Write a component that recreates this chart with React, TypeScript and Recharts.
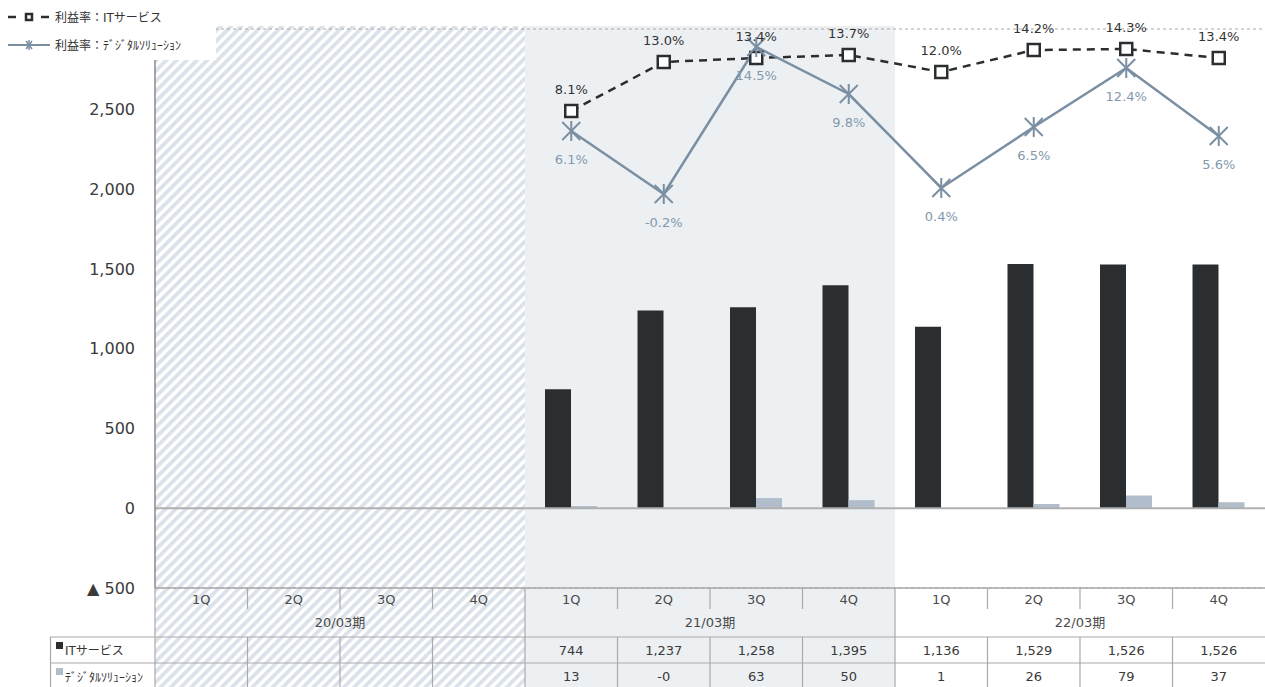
import * as React from "react";
import {
  ComposedChart,
  Bar,
  Line,
  XAxis,
  YAxis,
  CartesianGrid,
  ReferenceLine,
  LabelList,
} from "recharts";

const quarters = ["1Q", "2Q", "3Q", "4Q", "1Q", "2Q", "3Q", "4Q", "1Q", "2Q", "3Q", "4Q"];
const periods = ["20/03期", "21/03期", "22/03期"];
const itSales = [null, null, null, null, 744, 1237, 1258, 1395, 1136, 1529, 1526, 1526];
const digitalSales = [null, null, null, null, 13, -0.2, 63, 50, 1, 26, 79, 37];
const itMargin = [null, null, null, null, 8.1, 13.0, 13.4, 13.7, 12.0, 14.2, 14.3, 13.4];
const digitalMargin = [null, null, null, null, 6.1, -0.2, 14.5, 9.8, 0.4, 6.5, 12.4, 5.6];
const yTicks = [-500, 0, 500, 1000, 1500, 2000, 2500, 3000];

const W = 1265;
const H = 687;
const PLOT_LEFT = 155;
const PLOT_TOP = 29;
const AXIS_H = 99;
const PLOT_BOTTOM = H - AXIS_H;
const BAND = (W - PLOT_LEFT) / quarters.length;

const DARK = "#2b2e31";
const LIGHT = "#b1bdcb";
const STEEL = "#7b8fa3";
const GRID = "#a9a9a9";
const FONT = "'DejaVu Sans', 'Noto Sans CJK JP', sans-serif";

const data = quarters.map((q, i) => ({
  key: `${i}`,
  quarter: q,
  period: periods[Math.floor(i / 4)],
  it: itSales[i],
  digital: digitalSales[i],
  itRate: itMargin[i],
  dgRate: digitalMargin[i],
}));

const fmtNum = (v: number | null) => {
  if (v == null) return "";
  const r = Math.round(v);
  if (r === 0 && v < 0) return "-0";
  return r.toLocaleString("en-US");
};

const fmtPct = (v: any) => (v == null ? "" : `${Number(v).toFixed(1)}%`);

function SquareDot(props: any) {
  const { cx, cy } = props;
  if (cx == null || cy == null || props.value == null) return null;
  return (
    <rect x={cx - 6} y={cy - 6} width={12} height={12} fill="#fff" stroke={DARK} strokeWidth={2.5} />
  );
}

function StarDot(props: any) {
  const { cx, cy } = props;
  if (cx == null || cy == null || props.value == null) return null;
  const r = 9;
  return (
    <g stroke={STEEL} strokeWidth={2}>
      <line x1={cx - r} y1={cy - r} x2={cx + r} y2={cy + r} />
      <line x1={cx - r} y1={cy + r} x2={cx + r} y2={cy - r} />
      <line x1={cx} y1={cy - r - 1} x2={cx} y2={cy + r + 1} />
    </g>
  );
}

function YTick(props: any) {
  const { x, y, payload } = props;
  if (payload.value === 3000) return null;
  const label = payload.value < 0 ? `▲ ${Math.abs(payload.value)}` : payload.value.toLocaleString("en-US");
  return (
    <text x={x - 12} y={y} dy={6} textAnchor="end" fontSize={16} fill="#3a3a3a" fontFamily={FONT}>
      {label}
    </text>
  );
}

function XTick(props: any) {
  const { x, index } = props;
  const d = data[index];
  const right = x + BAND / 2;
  const groupEnd = index % 4 === 3;
  const rowTop = 637;
  const rowMid = 663;
  return (
    <g fontFamily={FONT}>
      {index === 0 && (
        <g stroke={GRID} strokeWidth={1.2}>
          <line x1={50} y1={rowTop} x2={W} y2={rowTop} />
          <line x1={50} y1={rowMid} x2={W} y2={rowMid} />
          <line x1={50.5} y1={rowTop} x2={50.5} y2={H} />
          <line x1={PLOT_LEFT} y1={PLOT_BOTTOM} x2={PLOT_LEFT} y2={H} />
        </g>
      )}
      {index === 0 && (
        <g fontSize={12} fill="#333">
          <rect x={56} y={642} width={7} height={7} fill={DARK} />
          <text x={65} y={655}>ITサービス</text>
          <rect x={56} y={668} width={7} height={7} fill={LIGHT} />
          <text x={65} y={682}>ﾃﾞｼﾞﾀﾙｿﾘｭｰｼｮﾝ</text>
        </g>
      )}
      <text x={x} y={604} textAnchor="middle" fontSize={13} fill="#4a4a4a">
        {d.quarter}
      </text>
      {index % 4 === 1 && (
        <text x={right} y={627} textAnchor="middle" fontSize={13} fill="#4a4a4a">
          {d.period}
        </text>
      )}
      <text x={x} y={655} textAnchor="middle" fontSize={13} fill="#3a3a3a">
        {fmtNum(d.it)}
      </text>
      <text x={x} y={681} textAnchor="middle" fontSize={13} fill="#3a3a3a">
        {fmtNum(d.digital)}
      </text>
      {index < quarters.length - 1 && (
        <g stroke={GRID} strokeWidth={1.2}>
          {groupEnd ? (
            <line x1={right} y1={PLOT_BOTTOM} x2={right} y2={H} />
          ) : (
            <>
              <line x1={right} y1={PLOT_BOTTOM} x2={right} y2={609} />
              <line x1={right} y1={rowTop} x2={right} y2={H} />
            </>
          )}
        </g>
      )}
    </g>
  );
}

function Legend() {
  return (
    <svg width={216} height={60} style={{ position: "absolute", left: 0, top: 0, background: "#fff" }}>
      <g fontFamily={FONT} fontSize={12} fill="#333">
        <line x1={8} y1={17} x2={16} y2={17} stroke={DARK} strokeWidth={2.5} />
        <rect x={26} y={14} width={6} height={6} fill="#fff" stroke={DARK} strokeWidth={2.5} />
        <line x1={41} y1={17} x2={49} y2={17} stroke={DARK} strokeWidth={2.5} />
        <text x={55} y={22}>利益率：ITサービス</text>
        <line x1={8} y1={45} x2={50} y2={45} stroke={STEEL} strokeWidth={2} />
        <g stroke={STEEL} strokeWidth={1.5}>
          <line x1={26} y1={41} x2={32} y2={49} />
          <line x1={26} y1={49} x2={32} y2={41} />
          <line x1={29} y1={40} x2={29} y2={50} />
        </g>
        <text x={55} y={50}>利益率：ﾃﾞｼﾞﾀﾙｿﾘｭｰｼｮﾝ</text>
      </g>
    </svg>
  );
}

function Background() {
  const bgTop = 26;
  return (
    <svg width={W} height={H} style={{ position: "absolute", left: 0, top: 0 }}>
      <defs>
        <pattern id="hatch" patternUnits="userSpaceOnUse" width={7.2} height={7.2} patternTransform="rotate(45)">
          <rect x={0} y={0} width={3.8} height={7.2} fill="#dce2ea" />
        </pattern>
      </defs>
      <rect x={PLOT_LEFT} y={bgTop} width={BAND * 4} height={H - bgTop} fill="url(#hatch)" />
      <rect x={PLOT_LEFT + BAND * 4} y={bgTop} width={BAND * 4} height={H - bgTop} fill="#edf0f3" />
    </svg>
  );
}

export default function App() {
  return (
    <div style={{ position: "absolute", left: 0, top: 0, width: W, height: H, overflow: "hidden", background: "#fff" }}>
      <Background />
      <div style={{ position: "absolute", left: 0, top: 0 }}>
        <ComposedChart
          width={W}
          height={H}
          data={data}
          margin={{ top: PLOT_TOP, right: 0, bottom: 0, left: 0 }}
          barGap={0}
          barSize={26}
        >
          <CartesianGrid vertical={false} stroke={GRID} strokeDasharray="3 3" />
          <XAxis
            dataKey="key"
            height={AXIS_H}
            interval={0}
            tickLine={false}
            axisLine={{ stroke: GRID, strokeWidth: 1.5 }}
            tick={<XTick />}
          />
          <YAxis
            yAxisId="left"
            width={PLOT_LEFT}
            domain={[-500, 3000]}
            ticks={yTicks}
            tickLine={false}
            axisLine={{ stroke: "#8a8a8a", strokeWidth: 1.5 }}
            tick={<YTick />}
          />
          <YAxis yAxisId="right" orientation="right" hide domain={[-39.6, 16.3]} />
          <ReferenceLine yAxisId="left" y={0} stroke="#b0b0b0" strokeWidth={2} />
          <Bar yAxisId="left" dataKey="it" fill={DARK} isAnimationActive={false} />
          <Bar yAxisId="left" dataKey="digital" fill={LIGHT} isAnimationActive={false} />
          <Line
            yAxisId="right"
            dataKey="itRate"
            stroke={DARK}
            strokeWidth={2.5}
            strokeDasharray="8 6"
            dot={<SquareDot />}
            activeDot={false}
            isAnimationActive={false}
          >
            <LabelList
              dataKey="itRate"
              position="top"
              offset={17}
              fontSize={13}
              fill="#333"
              fontFamily={FONT}
              formatter={fmtPct}
            />
          </Line>
          <Line
            yAxisId="right"
            dataKey="dgRate"
            stroke={STEEL}
            strokeWidth={2.5}
            dot={<StarDot />}
            activeDot={false}
            isAnimationActive={false}
          >
            <LabelList
              dataKey="dgRate"
              position="bottom"
              offset={24}
              fontSize={13}
              fill="#8398ad"
              fontFamily={FONT}
              formatter={fmtPct}
            />
          </Line>
        </ComposedChart>
      </div>
      <Legend />
    </div>
  );
}
